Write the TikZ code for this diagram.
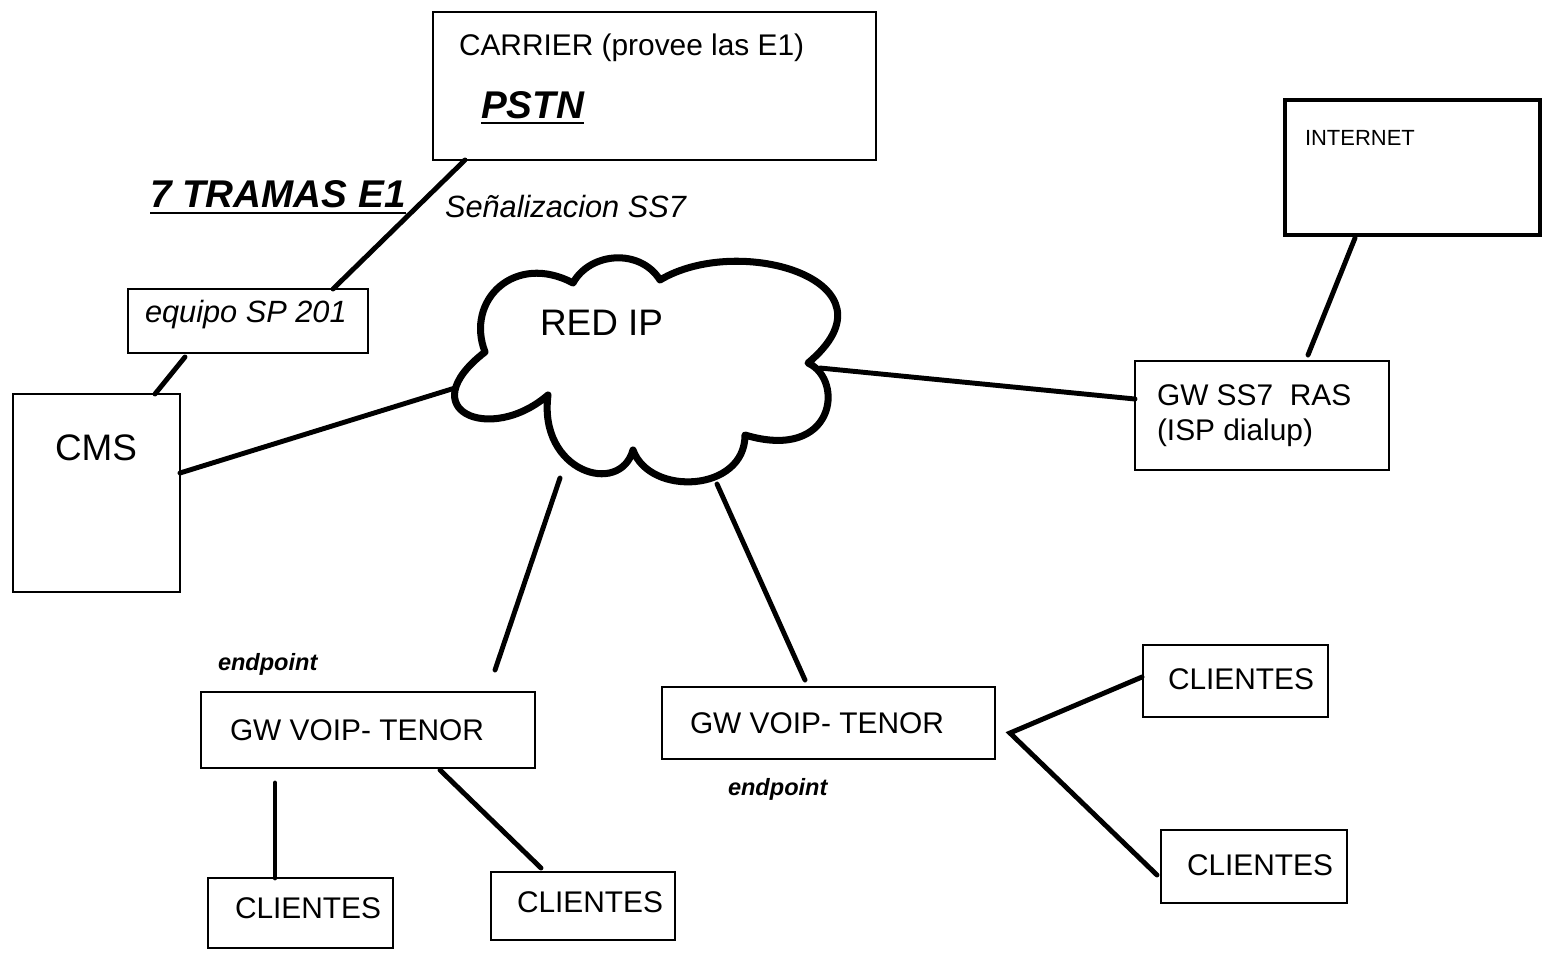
\documentclass[tikz,border=0pt]{standalone}
\usepackage{fontspec}
\setmainfont{Liberation Sans}
\usetikzlibrary{calc}
\begin{document}
\begin{tikzpicture}[x=0.02cm,y=-0.02cm,
  box/.style={draw, line width=1.1pt, rectangle, anchor=north west, inner sep=0pt, outer sep=0pt},
  txt/.style={anchor=base west, inner sep=0pt, outer sep=0pt},
  reg/.style={font=\fontsize{17}{20}\selectfont},
  ital/.style={font=\fontsize{17.5}{20}\selectfont\itshape},
  boldital/.style={font=\fontsize{22}{26}\selectfont\bfseries\itshape},
  small/.style={font=\fontsize{12.5}{15}\selectfont},
  ep/.style={font=\fontsize{13.4}{16}\selectfont\bfseries\itshape},
  wire/.style={line width=2.8pt, line cap=round},
  uline/.style={line width=1.7pt}]
\useasboundingbox (0,0) rectangle (1544,957);

% boxes
\node[box, minimum width=8.86cm, minimum height=2.96cm] (carrier) at (433,12) {};
\node[box, line width=2.8pt, minimum width=5.1cm, minimum height=2.7cm] (internet) at (1285,100) {};
\node[box, minimum width=4.8cm, minimum height=1.28cm] (equipo) at (128,289) {};
\node[box, minimum width=3.34cm, minimum height=3.96cm] (cms) at (13,394) {};
\node[box, minimum width=5.08cm, minimum height=2.18cm] (gwss7) at (1135,361) {};
\node[box, minimum width=6.68cm, minimum height=1.52cm] (gw1) at (201,692) {};
\node[box, minimum width=6.66cm, minimum height=1.44cm] (gw2) at (662,687) {};
\node[box, minimum width=3.7cm, minimum height=1.4cm] (cl1) at (208,878) {};
\node[box, minimum width=3.68cm, minimum height=1.36cm] (cl2) at (491,872) {};
\node[box, minimum width=3.7cm, minimum height=1.44cm] (cl3) at (1143,645) {};
\node[box, minimum width=3.72cm, minimum height=1.46cm] (cl4) at (1161,830) {};

% cloud
\draw[line width=4pt, line join=round, fill=white]
  (548,395) .. controls (490,445) and (410,410) .. (485,352)
  .. controls (465,300) and (515,252) .. (573,283)
  .. controls (590,252) and (640,248) .. (660,280)
  .. controls (740,232) and (905,282) .. (808,363)
  .. controls (845,380) and (835,462) .. (745,435)
  .. controls (745,492) and (650,497) .. (633,450)
  .. controls (620,497) and (538,472) .. (548,395) -- cycle;
\coordinate (cloudW) at (455,388);
\coordinate (cloudE) at (820,368);
\coordinate (cloudS1) at (560,478);
\coordinate (cloudS2) at (717,484);

% texts
\node[txt, reg] (tcarrier) at (459,55) {CARRIER (provee las E1)};
\node[txt, boldital] (pstn) at (481,118) {PSTN};
\draw[uline] ($(pstn.base west)+(0,5)$) -- ($(pstn.base east)+(0,5)$);
\node[txt, boldital] (tramas) at (150,207) {7 TRAMAS E1};
\draw[uline] ($(tramas.base west)+(0,6)$) -- ($(tramas.base east)+(0,6)$);
\node[txt, ital] (senal) at (445,217) {Señalizacion SS7};
\node[txt, ital] (tequipo) at (145,322) {equipo SP 201};
\node[txt, font=\fontsize{21}{25}\selectfont] (tcms) at (55,460) {CMS};
\node[txt, font=\fontsize{21}{25}\selectfont] (redip) at (540,335) {RED IP};
\node[txt, small] (tinternet) at (1305,145) {INTERNET};
\node[txt, reg] (tgwss7) at (1157,405) {GW SS7\ \ RAS};
\node[txt, reg] (tisp) at (1157,440) {(ISP dialup)};
\node[txt, ep] (ep1) at (218,670) {endpoint};
\node[txt, reg] (tgw1) at (230,740) {GW VOIP- TENOR};
\node[txt, reg] (tgw2) at (690,733) {GW VOIP- TENOR};
\node[txt, ep] (ep2) at (728,795) {endpoint};
\node[txt, reg] (tcl1) at (235,918) {CLIENTES};
\node[txt, reg] (tcl2) at (517,912) {CLIENTES};
\node[txt, reg] (tcl3) at (1168,689) {CLIENTES};
\node[txt, reg] (tcl4) at (1187,875) {CLIENTES};

% connectors
\draw[wire] ($(carrier.south west)+(32,0)$) -- ($(equipo.north west)+(205,0)$);
\draw[wire] ($(equipo.south west)+(57,4)$) -- ($(cms.north west)+(142,0)$);
\draw[wire] ($(cms.north east)+(0,79)$) -- (cloudW);
\draw[wire] (cloudE) -- ($(gwss7.north west)+(0,38)$);
\draw[wire] ($(internet.south west)+(70,3)$) -- ($(gwss7.north west)+(173,-6)$);
\draw[wire] (cloudS1) -- ($(gw1.north west)+(294,-22)$);
\draw[wire] (cloudS2) -- ($(gw2.north west)+(143,-7)$);
\draw[wire] ($(gw1.south west)+(74,15)$) -- ($(cl1.north west)+(67,0)$);
\draw[wire] ($(gw1.south west)+(239,2)$) -- ($(cl2.north west)+(50,-4)$);
\coordinate (fork) at ($(gw2.north east)+(15,46)$);
\draw[wire, line join=miter] ($(cl3.north west)+(-1,32)$) -- (fork) -- ($(cl4.north west)+(-4,45)$);
\end{tikzpicture}
\end{document}
